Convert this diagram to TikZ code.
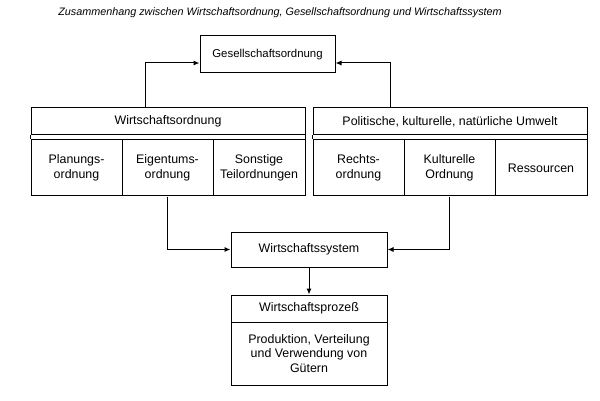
\documentclass[tikz,border=0pt]{standalone}
\usepackage{fontspec}
\setmainfont{Liberation Sans}
\usetikzlibrary{arrows.meta}
\tikzset{
  kasten/.style={draw,line width=1pt,minimum height=27pt,inner sep=0pt,align=center,font=\fontsize{12.4}{14.5}\selectfont},
  zelle/.style={kasten,minimum width=91pt,minimum height=56pt},
  pfeil/.style={-{Latex[length=6pt,width=5pt]},line width=1pt}
}
\begin{document}
\begin{tikzpicture}[x=1pt,y=-1pt]
    \useasboundingbox (0,0) rectangle (600,401);
    \node[font=\fontsize{10.8}{12}\selectfont\itshape] (titel) at (280,13) {Zusammenhang zwischen Wirtschaftsordnung, Gesellschaftsordnung und Wirtschaftssystem};
    \node[kasten,minimum width=135pt,minimum height=37pt,font=\fontsize{11.4}{14}\selectfont] (ges) at (267.5,54.5) {Gesellschaftsordnung};
    % linker Block
    \node[kasten,minimum width=274pt] (wo) at (168,121.5) {Wirtschaftsordnung};
    \node[zelle] (plan) at (76.5,168) {Planungs-\\ordnung};
    \node[zelle] (eig) at (167.5,168) {Eigentums-\\ordnung};
    \node[zelle,minimum width=92pt] (sonst) at (259,168) {Sonstige\\Teilordnungen};
    \draw[line width=1pt] (wo.south west) -- (plan.north west);
    \draw[line width=1pt] (wo.south east) -- (sonst.north east);
    % rechter Block
    \node[kasten,minimum width=274pt] (umw) at (450,121.5) {Politische, kulturelle, natürliche Umwelt};
    \node[zelle] (recht) at (358.5,168) {Rechts-\\ordnung};
    \node[zelle] (kult) at (449.5,168) {Kulturelle\\Ordnung};
    \node[zelle,minimum width=92pt] (ress) at (541,168) {Ressourcen};
    \draw[line width=1pt] (umw.south west) -- (recht.north west);
    \draw[line width=1pt] (umw.south east) -- (ress.north east);
    % unten
    \node[kasten,minimum width=156pt,minimum height=35pt] (sys) at (309,249.5) {Wirtschaftssystem};
    \node[kasten,minimum width=156pt] (proz) at (309,308.5) {Wirtschaftsprozeß};
    \node[kasten,minimum width=156pt,minimum height=63pt] (gut) at (309,353.5) {Produktion, Verteilung\\und Verwendung von\\Gütern};
    % Pfeile
    \draw[pfeil] ([xshift=-23pt]wo.north) |- ([yshift=-8.5pt]ges.west);
    \draw[pfeil] ([xshift=-60pt]umw.north) |- ([yshift=-8.5pt]ges.east);
    \draw[pfeil] (eig.south) |- (sys.west);
    \draw[pfeil] (kult.south) |- (sys.east);
    \draw[pfeil] (sys) -- (proz);
\end{tikzpicture}
\end{document}
